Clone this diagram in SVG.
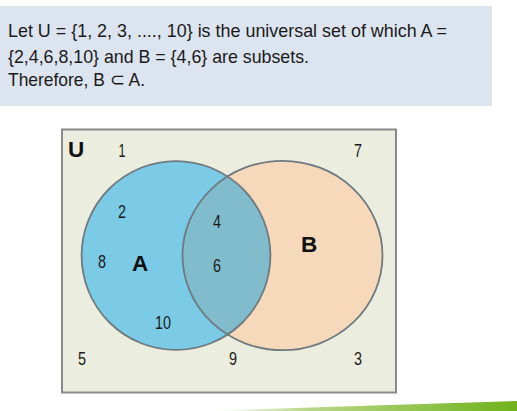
<svg xmlns="http://www.w3.org/2000/svg" width="517" height="411" viewBox="0 0 517 411">
<style>
.t{font-family:"Liberation Sans",sans-serif;font-size:18.5px;fill:#1a1a1a}
.n{font-family:"Liberation Sans",sans-serif;font-size:18.5px;fill:#1a1a1a;text-anchor:middle}
.b{font-family:"Liberation Sans",sans-serif;font-weight:bold;font-size:22.5px;fill:#111;text-anchor:middle}
.c{fill:none;stroke:#6e7a80;stroke-width:1.8}
</style>
<defs>
<linearGradient id="g" x1="0" x2="1" y1="0" y2="0">
<stop offset="0" stop-color="#ffffff"/>
<stop offset="0.3" stop-color="#b9d88a"/>
<stop offset="1" stop-color="#6fb21a"/>
</linearGradient>
<clipPath id="clipB"><ellipse cx="282.5" cy="255.5" rx="100" ry="94.7"/></clipPath>
</defs>
<rect width="517" height="411" fill="#ffffff"/>
<g id="statement">
<rect x="0" y="6" width="492" height="100" fill="#dce4ef"/>
<text class="t" x="8" y="37" textLength="439" lengthAdjust="spacingAndGlyphs">Let U = {1, 2, 3, ...., 10} is the universal set of which A =</text>
<text class="t" x="8" y="63" textLength="301" lengthAdjust="spacingAndGlyphs">{2,4,6,8,10} and B = {4,6} are subsets.</text>
<text class="t" x="8" y="86" textLength="137" lengthAdjust="spacingAndGlyphs">Therefore, B ⊂ A.</text>
</g>
<g id="universe">
<rect x="62" y="129.5" width="334" height="263" fill="#ebedde" stroke="#8a8a8a" stroke-width="2"/>
</g>
<g id="setB">
<ellipse cx="282.5" cy="255.5" rx="100" ry="94.7" fill="#f6d9bb"/>
</g>
<g id="setA">
<circle cx="176" cy="255.5" r="94.4" fill="#7ccbe6"/>
<circle cx="176" cy="255.5" r="94.4" fill="#80bccc" clip-path="url(#clipB)"/>
</g>
<g id="outlines">
<ellipse class="c" cx="282.5" cy="255.5" rx="100" ry="94.7"/>
<circle class="c" cx="176" cy="255.5" r="94.4"/>
</g>
<g id="labels">
<text class="b" x="76" y="157" font-size="16">U</text>
<text class="n" x="122" y="157" textLength="7" lengthAdjust="spacingAndGlyphs">1</text>
<text class="n" x="358" y="157" textLength="8" lengthAdjust="spacingAndGlyphs">7</text>
<text class="n" x="122" y="218" textLength="8" lengthAdjust="spacingAndGlyphs">2</text>
<text class="n" x="217" y="228" textLength="8" lengthAdjust="spacingAndGlyphs">4</text>
<text class="b" x="309" y="252">B</text>
<text class="n" x="102" y="268" textLength="8" lengthAdjust="spacingAndGlyphs">8</text>
<text class="b" x="140" y="271">A</text>
<text class="n" x="217" y="272" textLength="8" lengthAdjust="spacingAndGlyphs">6</text>
<text class="n" x="163" y="329" textLength="16" lengthAdjust="spacingAndGlyphs">10</text>
<text class="n" x="82" y="365" textLength="8" lengthAdjust="spacingAndGlyphs">5</text>
<text class="n" x="233" y="365" textLength="8" lengthAdjust="spacingAndGlyphs">9</text>
<text class="n" x="358" y="365" textLength="8" lengthAdjust="spacingAndGlyphs">3</text>
</g>
<polygon points="215,410.5 517,401 517,411 215,411" fill="url(#g)"/>
</svg>
